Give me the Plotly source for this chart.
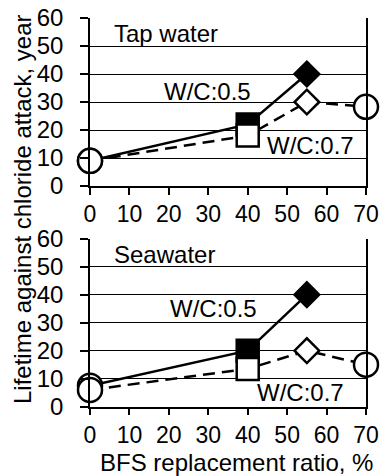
import plotly.graph_objects as go

# Data
bfs = [0, 40, 55, 70]
tap_wc05_x = [0, 40, 55]
tap_wc05_y = [9, 22, 40]
tap_wc07_x = [0, 40, 55, 70]
tap_wc07_y = [9, 18, 30, 28.3]
sea_wc05_x = [0, 40, 55]
sea_wc05_y = [7.5, 20, 40]
sea_wc07_x = [0, 40, 55, 70]
sea_wc07_y = [6, 13.5, 20, 15]
sym05 = ["circle", "square", "diamond"]
sym07 = ["circle", "square", "diamond", "circle"]
fill05 = ["white", "black", "black"]
fill07 = ["white", "white", "white", "white"]
xticks = [0, 10, 20, 30, 40, 50, 60, 70]
yticks = [0, 10, 20, 30, 40, 50, 60]

FONT = "Arial, Liberation Sans, sans-serif"
W, H = 380, 476

def msizes(symbols):
    return [24 if s == "circle" else (22 if s == "square" else 19) for s in symbols]

fig = go.Figure()

def add_panel(xs5, ys5, xs7, ys7, xa, ya):
    fig.add_trace(go.Scatter(
        x=xs5, y=ys5, mode="lines+markers", xaxis=xa, yaxis=ya,
        line=dict(color="black", width=2.5),
        marker=dict(symbol=sym05, size=msizes(sym05), color=fill05, opacity=1,
                    line=dict(color="black", width=2.5)),
        cliponaxis=False, showlegend=False))
    fig.add_trace(go.Scatter(
        x=xs7, y=ys7, mode="lines+markers", xaxis=xa, yaxis=ya,
        line=dict(color="black", width=2.5, dash="12px,7px"),
        marker=dict(symbol=sym07, size=msizes(sym07), color=fill07, opacity=1,
                    line=dict(color="black", width=2.5)),
        cliponaxis=False, showlegend=False))

add_panel(tap_wc05_x, tap_wc05_y, tap_wc07_x, tap_wc07_y, "x", "y")
add_panel(sea_wc05_x, sea_wc05_y, sea_wc07_x, sea_wc07_y, "x2", "y2")

xdom = [90 / W, 366 / W]
top_dom = [1 - 186 / H, 1 - 18 / H]
bot_dom = [1 - 406.7 / H, 1 - 238.7 / H]

xcommon = dict(range=[0, 70], tickvals=xticks, ticks="outside", ticklen=7,
               tickwidth=1.5, tickcolor="black", showline=True, linecolor="black",
               linewidth=1.5, mirror=False, showgrid=False, zeroline=False,
               tickfont=dict(family=FONT, size=23, color="black"),
               ticklabelstandoff=0, automargin=False, fixedrange=True)
ycommon = dict(range=[0, 60], tickvals=yticks, ticks="outside", ticklen=8,
               tickwidth=1.5, tickcolor="black", showline=True, linecolor="black",
               linewidth=1.5, mirror=True, showgrid=True, gridcolor="black",
               gridwidth=1.2, zeroline=False,
               tickfont=dict(family=FONT, size=24, color="black"),
               ticklabelstandoff=12, automargin=False, fixedrange=True)

fig.update_layout(
    width=W, height=H, margin=dict(l=0, r=0, t=0, b=0),
    paper_bgcolor="white", plot_bgcolor="white",
    xaxis=dict(domain=xdom, anchor="y", **xcommon),
    yaxis=dict(domain=top_dom, anchor="x", **ycommon),
    xaxis2=dict(domain=xdom, anchor="y2", **xcommon),
    yaxis2=dict(domain=bot_dom, anchor="x2", **ycommon),
    font=dict(family=FONT, size=24, color="black"),
)

ann = [
    dict(text="Tap water", x=5.6, y=54.6, xref="x", yref="y", xanchor="left"),
    dict(text="W/C:0.5", x=29.9, y=33.6, xref="x", yref="y"),
    dict(text="W/C:0.7", x=55.8, y=14.4, xref="x", yref="y"),
    dict(text="Seawater", x=5.6, y=54.5, xref="x2", yref="y2", xanchor="left"),
    dict(text="W/C:0.5", x=31.3, y=34.9, xref="x2", yref="y2"),
    dict(text="W/C:0.7", x=53.3, y=5.1, xref="x2", yref="y2"),
]
for a in ann:
    fig.add_annotation(showarrow=False, font=dict(family=FONT, size=24, color="black"),
                       yanchor="middle", **a)

fig.add_annotation(text="Lifetime against chloride attack, year", textangle=-90,
                   x=22 / W, y=1 - 209 / H, xref="paper", yref="paper",
                   xanchor="center", yanchor="middle", showarrow=False,
                   font=dict(family=FONT, size=24, color="black"))
fig.add_annotation(text="BFS replacement ratio, %", x=236 / W, y=1 - 462 / H,
                   xref="paper", yref="paper", xanchor="center", yanchor="middle",
                   showarrow=False, font=dict(family=FONT, size=24, color="black"))

fig.write_html("out.html")
